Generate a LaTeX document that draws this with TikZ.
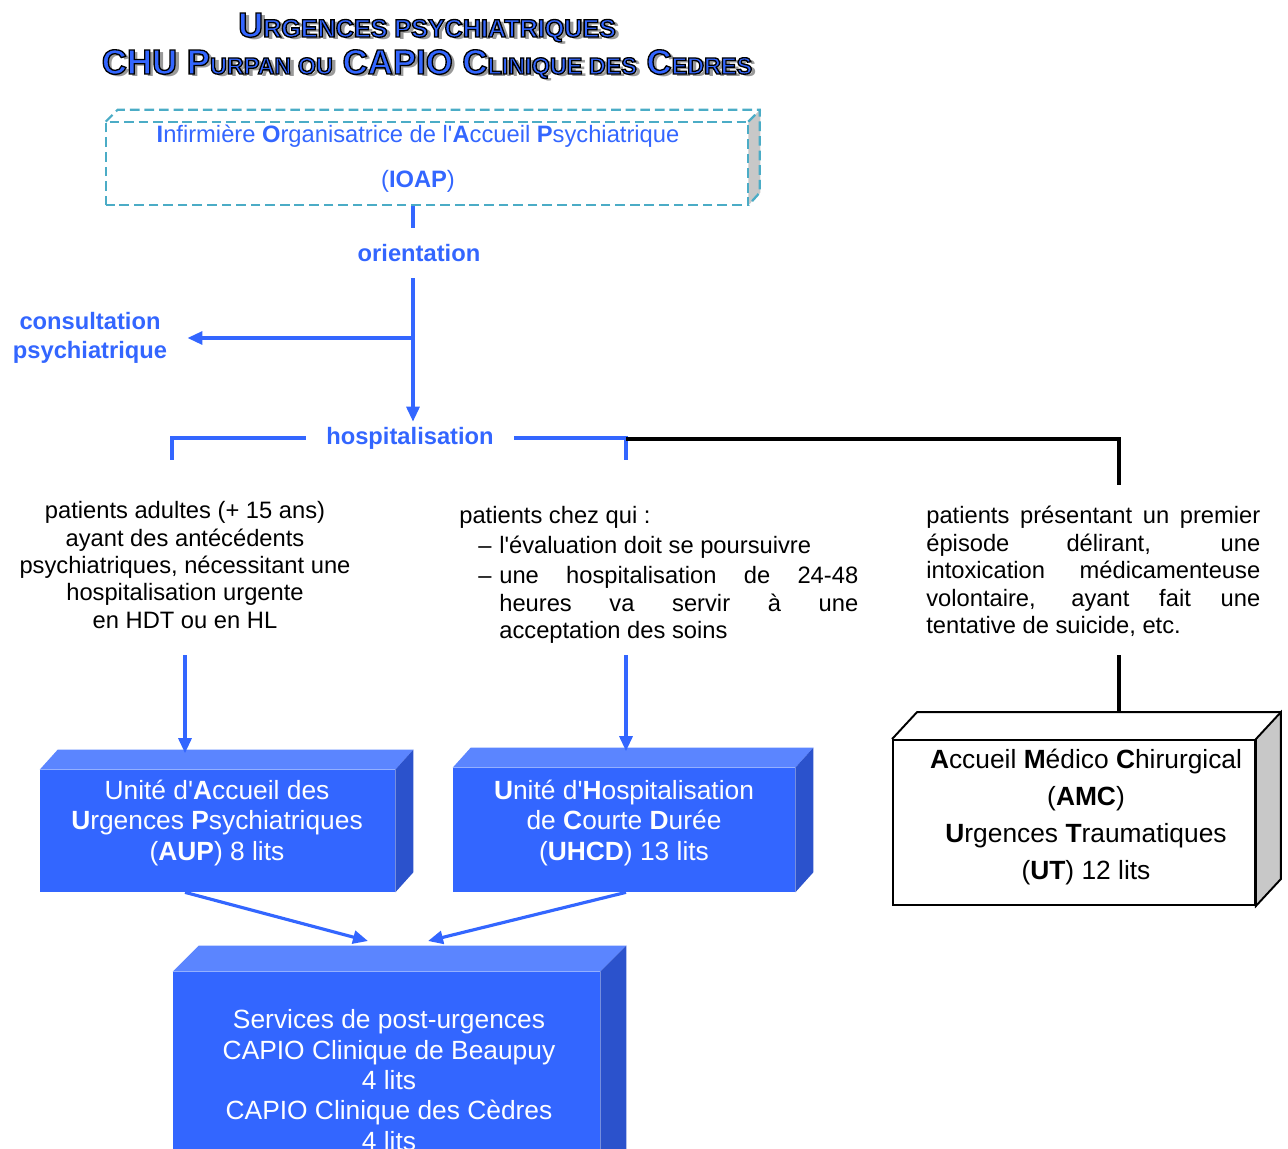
\documentclass[tikz,border=0pt]{standalone}
\usepackage{fontspec}
\setmainfont{Liberation Sans}[Ligatures=TeXOff]
\usetikzlibrary{arrows.meta}
\definecolor{ublue}{HTML}{3366FF}
\definecolor{utop}{HTML}{5B85FF}
\definecolor{uside}{HTML}{2B52CC}
\definecolor{ioapteal}{HTML}{4BACC6}
\definecolor{sidegray}{HTML}{C8C8C8}
\definecolor{shadowgray}{HTML}{9A9A9A}
\newcommand\smcap[3][13.3]{{\fontsize{19.8}{24}\selectfont #2}{\fontsize{#1}{16}\selectfont #3}}
\newcommand\outl{\special{pdf:literal direct 0 G 2 Tr 0.75 w}}
\newcommand\bdx{18}
\newcommand\bdy{-20}

\begin{document}
\begin{tikzpicture}[x=0.02cm, y=-0.02cm,
    txt/.style={font=\fontsize{13.5}{15.6}\selectfont, inner sep=0pt},
    lab/.style={txt, font=\fontsize{13.5}{15.6}\selectfont\bfseries, text=ublue},
    title/.style={font=\bfseries, anchor=base, inner sep=0pt},
    dashedge/.style={draw=ioapteal, line width=1.3pt, dash pattern=on 5.5pt off 2.8pt},
    bluebox/.style={fill=ublue, inner sep=0pt},
    boxtext/.style={text=white, font=\fontsize{15}{17.3}\selectfont, align=center, inner sep=0pt},
    link/.style={ublue, line width=1.8pt},
    arr/.style={link, -{Triangle[length=0.3cm, width=0.26cm]}},
    blk/.style={black, line width=1.8pt}]

    \useasboundingbox (0,0) rectangle (1288,1149);

    % title
    \node at (431, 40) [title, text=shadowgray] (title_1s) {\smcap[14.3]{U}{RGENCES PSYCHIATRIQUES}};
    \node at (431, 77) [title, text=shadowgray] (title_2s) {\smcap{CHU P}{URPAN OU}\smcap{ CAPIO C}{LINIQUE DES}\smcap{ C}{EDRES}};
    \node at (427, 37) [title, text=ublue] (title_1) {\outl\smcap[14.3]{U}{RGENCES PSYCHIATRIQUES}};
    \node at (427, 74) [title, text=ublue] (title_2) {\outl\smcap{CHU P}{URPAN OU}\smcap{ CAPIO C}{LINIQUE DES}\smcap{ C}{EDRES}};

    % IOAP
    \node at (427, 163.5) [minimum width=12.84cm, minimum height=1.66cm, inner sep=0pt] (ioap) {};
    \fill[sidegray] (ioap.north east) -- ++(12,-12) -- ++(0,83) -- (ioap.south east) -- cycle;
    \draw[dashedge] (ioap.south west) rectangle (ioap.north east);
    \draw[dashedge] (ioap.north west) -- ++(12,-12) -- ++(642,0) -- ++(0,83) -- (ioap.south east);
    \draw[dashedge] (ioap.north east) -- ++(12,-12);
    \node at (418, 136) [txt, text=ublue] (ioap_name) {\textbf{I}nfirmière \textbf{O}rganisatrice de l'\textbf{A}ccueil \textbf{P}sychiatrique};
    \node at (418, 181) [txt, text=ublue] (ioap_abbr) {(\textbf{IOAP})};

    \node at (419, 253) [lab, minimum height=1cm] (orient) {orientation};
    \node at (90, 338) [lab, font=\fontsize{13.5}{16.5}\selectfont\bfseries, align=center, inner xsep=0.4cm] (consult) {consultation\\psychiatrique};
    \node at (410, 438) [lab, minimum height=0.64cm, inner xsep=0.4cm] (hosp) {hospitalisation};

    \coordinate (t0) at (413, 206);
    \coordinate (hl_foot) at (172, 460);
    \coordinate (hm_foot) at (626, 460);
    \coordinate (hm) at (626, 439);
    \coordinate (hr_foot) at (1119, 485);

    \draw[link] (t0) -- (t0 |- orient.north);
    \draw[arr] (t0 |- orient.south) -- (t0 |- hosp.north);
    \draw[arr] (t0 |- consult.east) -- (consult.east);
    \draw[link] (hosp.west) -| (hl_foot);
    \draw[link] (hosp.east) -| (hm_foot);
    \draw[blk] (hm) -| (hr_foot);

    % patient groups
    \node at (185, 565) [txt, align=center] (adults) {patients adultes (+ 15 ans)\\ayant des antécédents\\psychiatriques, nécessitant une\\hospitalisation urgente\\en HDT ou en HL};

    \node at (459, 506) [txt, anchor=north west] (chezqui) {\begin{minipage}[t]{7.98cm}\parindent=0pt\parskip=1.5pt
        patients chez qui :\par
        \leftskip=0.8cm
        \hspace*{-0.42cm}\makebox[0.42cm][l]{–}l'évaluation doit se poursuivre\par
        \hspace*{-0.42cm}\makebox[0.42cm][l]{–}une hospitalisation de 24-48\linebreak heures va servir à une\linebreak acceptation des soins\par
        \end{minipage}};

    \node at (926, 506) [txt, anchor=north west, text width=6.68cm, align=justify] (premier) {patients présentant un premier\linebreak épisode délirant, une\linebreak intoxication médicamenteuse\linebreak volontaire, ayant fait une\linebreak tentative de suicide, etc.};

    % AUP
    \node at (217.5, 831) [bluebox, minimum width=7.1cm, minimum height=2.44cm] (aup) {};
    \fill[utop] (aup.north west) -- ++(\bdx,\bdy) -- ([shift={(\bdx,\bdy)}]aup.north east) -- (aup.north east) -- cycle;
    \fill[uside] (aup.north east) -- ++(\bdx,\bdy) -- ([shift={(\bdx,\bdy)}]aup.south east) -- (aup.south east) -- cycle;
    \coordinate (aup_top) at ([shift={(\bdx,\bdy)}]aup.north);
    \node at (217, 823) [boxtext] (aup_label) {Unité d'\textbf{A}ccueil des\\\textbf{U}rgences \textbf{P}sychiatriques\\(\textbf{AUP}) 8 lits};

    % UHCD
    \node at (624, 830) [bluebox, minimum width=6.84cm, minimum height=2.48cm] (uhcd) {};
    \fill[utop] (uhcd.north west) -- ++(\bdx,\bdy) -- ([shift={(\bdx,\bdy)}]uhcd.north east) -- (uhcd.north east) -- cycle;
    \fill[uside] (uhcd.north east) -- ++(\bdx,\bdy) -- ([shift={(\bdx,\bdy)}]uhcd.south east) -- (uhcd.south east) -- cycle;
    \coordinate (uhcd_top) at ([shift={(\bdx,\bdy)}]uhcd.north);
    \node at (624, 823) [boxtext] (uhcd_label) {\textbf{U}nité d'\textbf{H}ospitalisation\\de \textbf{C}ourte \textbf{D}urée\\(\textbf{UHCD}) 13 lits};

    % AMC
    \node at (1074, 822.5) [draw, line width=1.1pt, minimum width=7.24cm, minimum height=3.3cm, inner sep=0pt] (amc) {};
    \filldraw[fill=sidegray, line width=1.1pt] (amc.north east) -- ++(25,-27) -- ([shift={(25,-27)}]amc.south east) -- (amc.south east) -- cycle;
    \draw[line width=1.1pt] (amc.north west) -- ++(25,-27) -- ([shift={(25,-27)}]amc.north east);
    \coordinate (amc_top) at ([shift={(25,-27)}]amc.north);
    \node at (1086, 817) [txt, font=\fontsize{15}{21}\selectfont, align=center] (amc_label) {\textbf{A}ccueil \textbf{M}édico \textbf{C}hirurgical\\(\textbf{AMC})\\\textbf{U}rgences \textbf{T}raumatiques\\(\textbf{UT}) 12 lits};

    % post-urgences
    \node at (386.5, 1080) [bluebox, minimum width=8.54cm, minimum height=4.32cm] (post) {};
    \fill[utop] (post.north west) -- ++(26,-26) -- ([shift={(26,-26)}]post.north east) -- (post.north east) -- cycle;
    \fill[uside] (post.north east) -- ++(26,-26) -- ([shift={(26,-26)}]post.south east) -- (post.south east) -- cycle;
    \node at (389, 1080) [boxtext] (post_label) {Services de post-urgences\\CAPIO Clinique de Beaupuy\\4 lits\\CAPIO Clinique des Cèdres\\4 lits};
    \coordinate (post_in1) at (368, 941);
    \coordinate (post_in2) at (428, 941);

    % arrows to units
    \coordinate (a1) at (185, 655);
    \coordinate (a2) at (626, 655);
    \coordinate (a3) at (1119, 655);
    \draw[arr] (a1) -- ([yshift=-2]a1 |- aup_top);
    \draw[arr] (a2) -- ([yshift=-2]a2 |- uhcd_top);
    \draw[blk] (a3) -- (a3 |- amc_top);
    \draw[arr] (a1 |- aup.south) -- (post_in1);
    \draw[arr] (a2 |- uhcd.south) -- (post_in2);
\end{tikzpicture}
\end{document}
